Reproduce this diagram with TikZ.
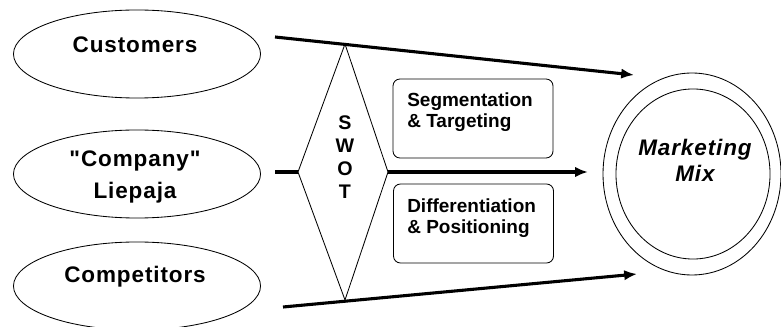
\documentclass[tikz,border=0pt]{standalone}
\usepackage{fontspec}
\setmainfont{Liberation Sans}
\newfontfamily\widefont{Liberation Sans}[LetterSpace=4]
\usepackage{tikz}
\usetikzlibrary{arrows.meta,shapes.geometric,positioning}

\tikzset{
  oval/.style={draw, ellipse, line width=0.6pt, minimum width=6.175cm, minimum height=2.2cm, inner sep=0pt},
  ovaltxt/.style={font=\widefont\bfseries\fontsize{16}{23}\selectfont, align=center, inner sep=0pt},
  rbox/.style={draw, rounded corners=5pt, line width=0.6pt, minimum width=4cm, minimum height=1.975cm},
  boxtxt/.style={font=\bfseries\fontsize{13.5}{15.6}\selectfont, align=left, inner sep=0pt},
  flow/.style={line width=2.2pt, -{Latex[length=3.2mm,width=2.6mm]}},
  plain/.style={line width=2.2pt}
}

\begin{document}
\begin{tikzpicture}[x=0.025cm, y=-0.025cm]

	\useasboundingbox (0,0) rectangle (781,327);
	
	% left hand inputs
	\node[oval] (cust) at (137,54) {};
	\node[oval] (comp) at (137,174) {};
	\node[oval] (rival) at (137,286) {};
	\node[ovaltxt] (custtxt) at (135,45) {Customers};
	\node[ovaltxt] (comptxt) at (135,177) {"Company"\\Liepaja};
	\node[ovaltxt] (rivaltxt) at (135,277) {Competitors};
	
	% swot diamond
	\draw[line width=0.6pt] (345,44) coordinate (swotN) -- (388,172) coordinate (swotE)
		-- (345,300) coordinate (swotS) -- (298,172) coordinate (swotW) -- cycle;
	\node[font=\bfseries\fontsize{14}{16.3}\selectfont, align=center, inner sep=0pt] (swot) at (345,157) {S\\W\\O\\T};
	
	% boxes
	\node[rbox] (seg) at (473,118.5) {};
	\node[rbox] (diff) at (473.5,223.5) {};
	\node[boxtxt, anchor=north west] (segtxt) at (407,92) {Segmentation\\\& Targeting};
	\node[boxtxt, anchor=north west] (difftxt) at (407,198) {Differentiation\\\& Positioning};
	
	% marketing mix
	\draw[line width=0.6pt] (692,174) ellipse (89 and 101);
	\node[draw, ellipse, line width=0.6pt, minimum width=3.85cm, minimum height=4.25cm] (mix) at (693,174) {};
	\node[font=\widefont\bfseries\itshape\fontsize{16}{18.4}\selectfont, align=center, inner sep=0pt] (mixtxt) at (695,160) {Marketing\\Mix};
	
	% arrows
	\coordinate (topL) at (275,37);
	\coordinate (topR) at (634,75);
	\coordinate (midL) at (275,172);
	\coordinate (midR) at (588,172);
	\coordinate (botL) at (283,307);
	\coordinate (botR) at (637,274);
	\draw[flow] (topL) -- (topR);
	\draw[flow] (botL) -- (botR);
	\draw[plain] (midL) -- (swotW);
	\draw[flow] (swotE) -- (midR);
	
\end{tikzpicture}
\end{document}
